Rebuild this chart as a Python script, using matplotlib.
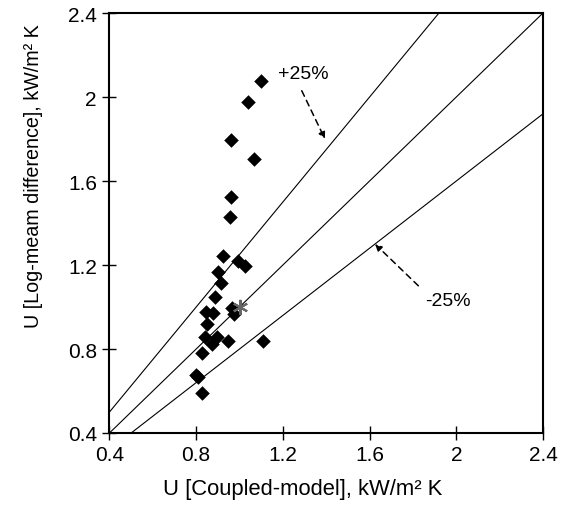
import matplotlib
matplotlib.use("Agg")
import matplotlib.pyplot as plt
from matplotlib.ticker import FuncFormatter
import numpy as np

plt.rcParams['font.family'] = ['Liberation Sans', 'DejaVu Sans']

# Data
coupled_model = [1.099, 1.040, 0.959, 1.067, 0.959, 0.956, 0.922, 0.994, 1.025,
                 0.899, 0.914, 0.887, 0.845, 0.876, 0.964, 0.974, 0.848, 0.840,
                 0.897, 0.871, 0.948, 1.107, 0.825, 0.800, 0.810, 0.825]
log_mean = [2.075, 1.978, 1.797, 1.705, 1.522, 1.430, 1.241, 1.218, 1.197,
            1.165, 1.113, 1.046, 0.975, 0.971, 0.994, 0.967, 0.919, 0.856,
            0.859, 0.824, 0.840, 0.840, 0.781, 0.675, 0.665, 0.590]
ref_point_x = [1.0]
ref_point_y = [1.0]
line_factors = [1.25, 1.0, 0.8]
ticks = [0.4, 0.8, 1.2, 1.6, 2.0, 2.4]

fig = plt.figure(figsize=(5.69, 5.06), dpi=100)
ax = fig.add_axes([0.1924, 0.1423, 0.7619, 0.8300])

xs = np.array([0.4, 2.4])
for f in line_factors:
    ax.plot(xs, f * xs, color='black', lw=0.8, zorder=1)

ax.scatter(coupled_model, log_mean, marker='D', s=55, color='black', zorder=3, linewidths=0)
ax.plot(ref_point_x, ref_point_y, marker=(6, 2, 0), markersize=11, color='#666666',
        markeredgewidth=1.5, linestyle='none', zorder=4)

ax.set_xlim(0.4, 2.4)
ax.set_ylim(0.4, 2.4)
ax.set_xticks(ticks)
ax.set_yticks(ticks)
fmt = FuncFormatter(lambda v, p: f"{v:g}")
ax.xaxis.set_major_formatter(fmt)
ax.yaxis.set_major_formatter(fmt)
ax.tick_params(direction='inout', length=10, width=1, labelsize=15, pad=4, colors='black')
for s in ax.spines.values():
    s.set_linewidth(1.5)

ax.set_xlabel("U [Coupled-model], kW/m² K", fontsize=15.8)
ax.set_ylabel("U [Log-meam difference], kW/m² K", fontsize=14.2)
ax.xaxis.label.set_va('center')
ax.yaxis.label.set_va('center')
ax.xaxis.set_label_coords(0.446, -0.133)
ax.yaxis.set_label_coords(-0.176, 0.613)

# annotations
ax.annotate("", xy=(1.394, 1.80), xytext=(1.287, 2.03),
            arrowprops=dict(arrowstyle='-|>', linestyle=(0, (4, 3)), color='black',
                            lw=1.1, mutation_scale=10, shrinkA=0, shrinkB=0))
ax.text(1.178, 2.11, "+25%", fontsize=14, ha='left', va='center')
ax.annotate("", xy=(1.625, 1.30), xytext=(1.825, 1.101),
            arrowprops=dict(arrowstyle='-|>', linestyle=(0, (4, 3)), color='black',
                            lw=1.1, mutation_scale=10, shrinkA=0, shrinkB=0))
ax.text(1.856, 1.03, "-25%", fontsize=14, ha='left', va='center')

fig.savefig("out.png", dpi=100)
